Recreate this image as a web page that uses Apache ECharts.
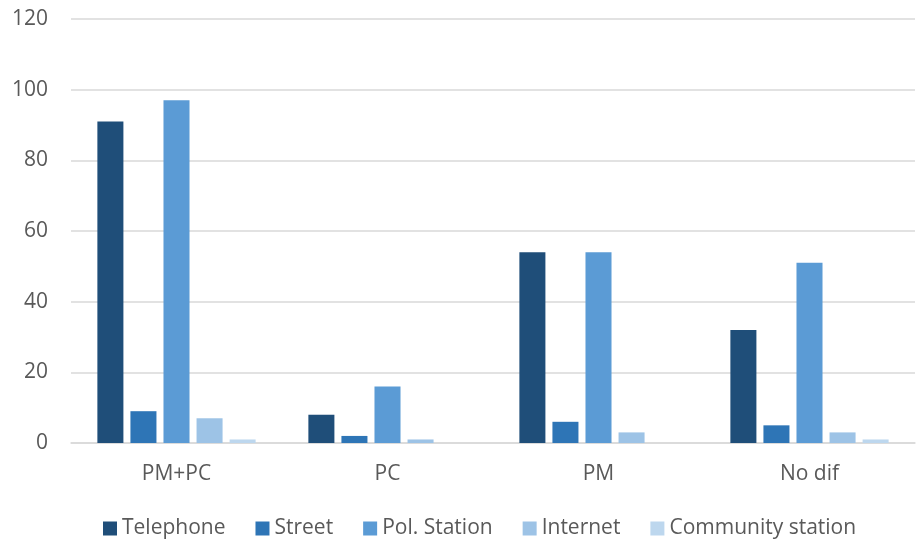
<!DOCTYPE html>
<html>
<head>
<meta charset="utf-8">
<script src="https://cdn.jsdelivr.net/npm/echarts@6/dist/echarts.min.js"></script>
<style>
  html, body { margin: 0; padding: 0; background: #ffffff; }
  #chart { width: 919px; height: 540px; }
</style>
</head>
<body>
<div id="chart"></div>
<script>
// Reporting channel counts per group
const categories = ['PM+PC', 'PC', 'PM', 'No dif'];
const seriesNames = ['Telephone', 'Street', 'Pol. Station', 'Internet', 'Community station'];
const telephone = [91, 8, 54, 32];
const street = [9, 2, 6, 5];
const polStation = [97, 16, 54, 51];
const internet = [7, 1, 3, 3];
const communityStation = [1, 0, 0, 1];
const yTicks = [0, 20, 40, 60, 80, 100, 120];

const seriesValues = [telephone, street, polStation, internet, communityStation];
const colors = ['#1F4E79', '#2E75B6', '#5B9BD5', '#9DC3E6', '#BDD7EE'];
const textColor = '#595959';
const fontFamily = '"Open Sans", "Noto Sans", sans-serif';
const fontSize = 21;

const chart = echarts.init(document.getElementById('chart'), null, { renderer: 'canvas' });

chart.setOption({
  animation: false,
  color: colors,
  textStyle: { fontFamily: fontFamily },
  grid: { left: 71, right: 4, top: 19, bottom: 97 },
  legend: {
    top: 513,
    left: 98,
    itemWidth: 14,
    itemHeight: 14,
    itemGap: 30,
    icon: 'rect',
    textStyle: { color: textColor, fontSize: fontSize, fontFamily: fontFamily },
    data: seriesNames
  },
  xAxis: {
    type: 'category',
    data: categories,
    axisLine: { show: true, lineStyle: { color: '#d9d9d9', width: 1.5 } },
    axisTick: { show: false },
    axisLabel: { color: textColor, fontSize: fontSize, margin: 21, fontFamily: fontFamily }
  },
  yAxis: {
    type: 'value',
    min: yTicks[0],
    max: yTicks[yTicks.length - 1],
    interval: yTicks[1] - yTicks[0],
    axisLine: { show: false },
    axisTick: { show: false },
    axisLabel: { color: textColor, fontSize: fontSize, margin: 23, fontFamily: fontFamily },
    splitLine: { lineStyle: { color: '#d9d9d9', width: 1.5 } }
  },
  series: seriesNames.map((name, i) => ({
    name: name,
    type: 'bar',
    data: seriesValues[i],
    barGap: '27%',
    barCategoryGap: '25%',
    itemStyle: { color: colors[i] }
  }))
});
</script>
</body>
</html>
